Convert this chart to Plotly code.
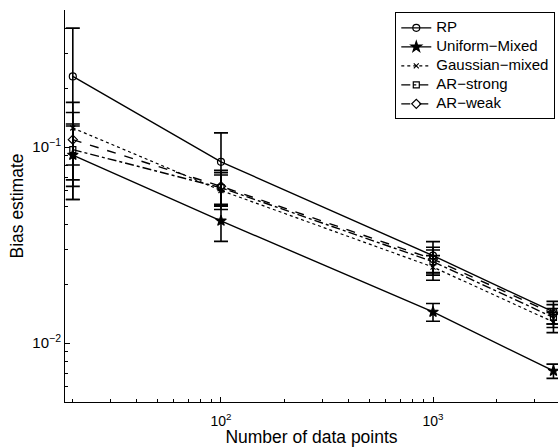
import plotly.graph_objects as go
import numpy as np

# ---- data ----
n_points = [20, 100, 1000, 3700]

rp = [0.229, 0.084, 0.0279, 0.0144]
rp_err = [0.175, 0.034, 0.005, 0.0019]

uniform_mixed = [0.091, 0.042, 0.0144, 0.0072]
uniform_mixed_err = [0.037, 0.009, 0.0015, 0.0006]

gaussian_mixed = [0.125, 0.060, 0.0244, 0.0128]
gaussian_mixed_err = [0.044, 0.012, 0.0035, 0.0015]

ar_strong = [0.097, 0.062, 0.026, 0.0135]
ar_strong_err = [0.034, 0.012, 0.0038, 0.0015]

ar_weak = [0.109, 0.063, 0.0268, 0.0141]
ar_weak_err = [0.041, 0.013, 0.004, 0.0016]

series_names = ["RP", "Uniform\u2212Mixed", "Gaussian\u2212mixed", "AR\u2212strong", "AR\u2212weak"]

x_tickvals = [100, 1000]
x_ticktext = ["10<sup>2</sup>", "10<sup>3</sup>"]
y_tickvals = [0.01, 0.1]
y_ticktext = ["10<sup>\u22122</sup>", "10<sup>\u22121</sup>"]

FONT = "Liberation Sans, Arial, Helvetica, sans-serif"

styles = [
    ("solid", "circle-open", 7),
    ("solid", "star", 8),
    ("dot", "x-thin-open", 5),
    ("dashdot", "square-open", 6),
    ("dash", "diamond-open", 7),
]
values = [
    (rp, rp_err), (uniform_mixed, uniform_mixed_err),
    (gaussian_mixed, gaussian_mixed_err), (ar_strong, ar_strong_err),
    (ar_weak, ar_weak_err),
]

fig = go.Figure()
for name, (vals, errs), (dash, sym, size) in zip(series_names, values, styles):
    fig.add_trace(go.Scatter(
        x=n_points, y=vals, mode="lines+markers",
        name='<span style="font-size:15px">' + name + '</span>',
        line=dict(color="black", width=1.4 if dash != "dot" else 1.2, dash=dash),
        marker=dict(symbol=sym, size=size, color="black",
                    line=dict(color="black", width=1.2)),
        error_y=dict(type="data", array=errs, visible=True,
                     color="black", thickness=1.6, width=7),
    ))

minor_x = [v * m for v in (10, 100, 1000) for m in range(2, 10)]
minor_y = [v * m for v in (0.001, 0.01, 0.1) for m in range(2, 10)]

fig.update_layout(
    template="none",
    width=558, height=447,
    margin=dict(l=65, r=0, t=10, b=45, autoexpand=False),
    paper_bgcolor="white", plot_bgcolor="white",
    font=dict(family=FONT, size=14, color="black"),
    showlegend=True,
    legend=dict(
        x=0.9945, xanchor="right", y=0.994, yanchor="top",
        bgcolor="white", bordercolor="black", borderwidth=1,
        font=dict(family=FONT, size=11.5, color="black"),
        itemwidth=30, tracegroupgap=0,
    ),
    xaxis=dict(
        type="log", range=[1.2642, 3.5896], automargin=False,
        showline=True, linecolor="black", linewidth=1, mirror=False,
        showgrid=False, zeroline=False,
        ticks="inside", ticklen=5, tickcolor="black",
        tickvals=x_tickvals, ticktext=x_ticktext, ticklabelstandoff=6,
        minor=dict(tickvals=minor_x, ticks="inside", ticklen=3,
                   tickcolor="black", showgrid=False),
        title=dict(text="Number of data points", standoff=0,
                   font=dict(family=FONT, size=17.5)),
        tickfont=dict(family=FONT, size=14),
    ),
    yaxis=dict(
        type="log", range=[np.log10(0.005), np.log10(0.5)], automargin=False,
        showline=True, linecolor="black", linewidth=1, mirror=False,
        showgrid=False, zeroline=False,
        ticks="inside", ticklen=5, tickcolor="black",
        tickvals=y_tickvals, ticktext=y_ticktext,
        minor=dict(tickvals=minor_y, ticks="inside", ticklen=3,
                   tickcolor="black", showgrid=False),
        title=dict(text="Bias estimate", standoff=4,
                   font=dict(family=FONT, size=17.5)),
        tickfont=dict(family=FONT, size=15),
    ),
)

fig.write_html("out.html", config={"displayModeBar": False},
               post_script="document.body.style.margin='0';")
